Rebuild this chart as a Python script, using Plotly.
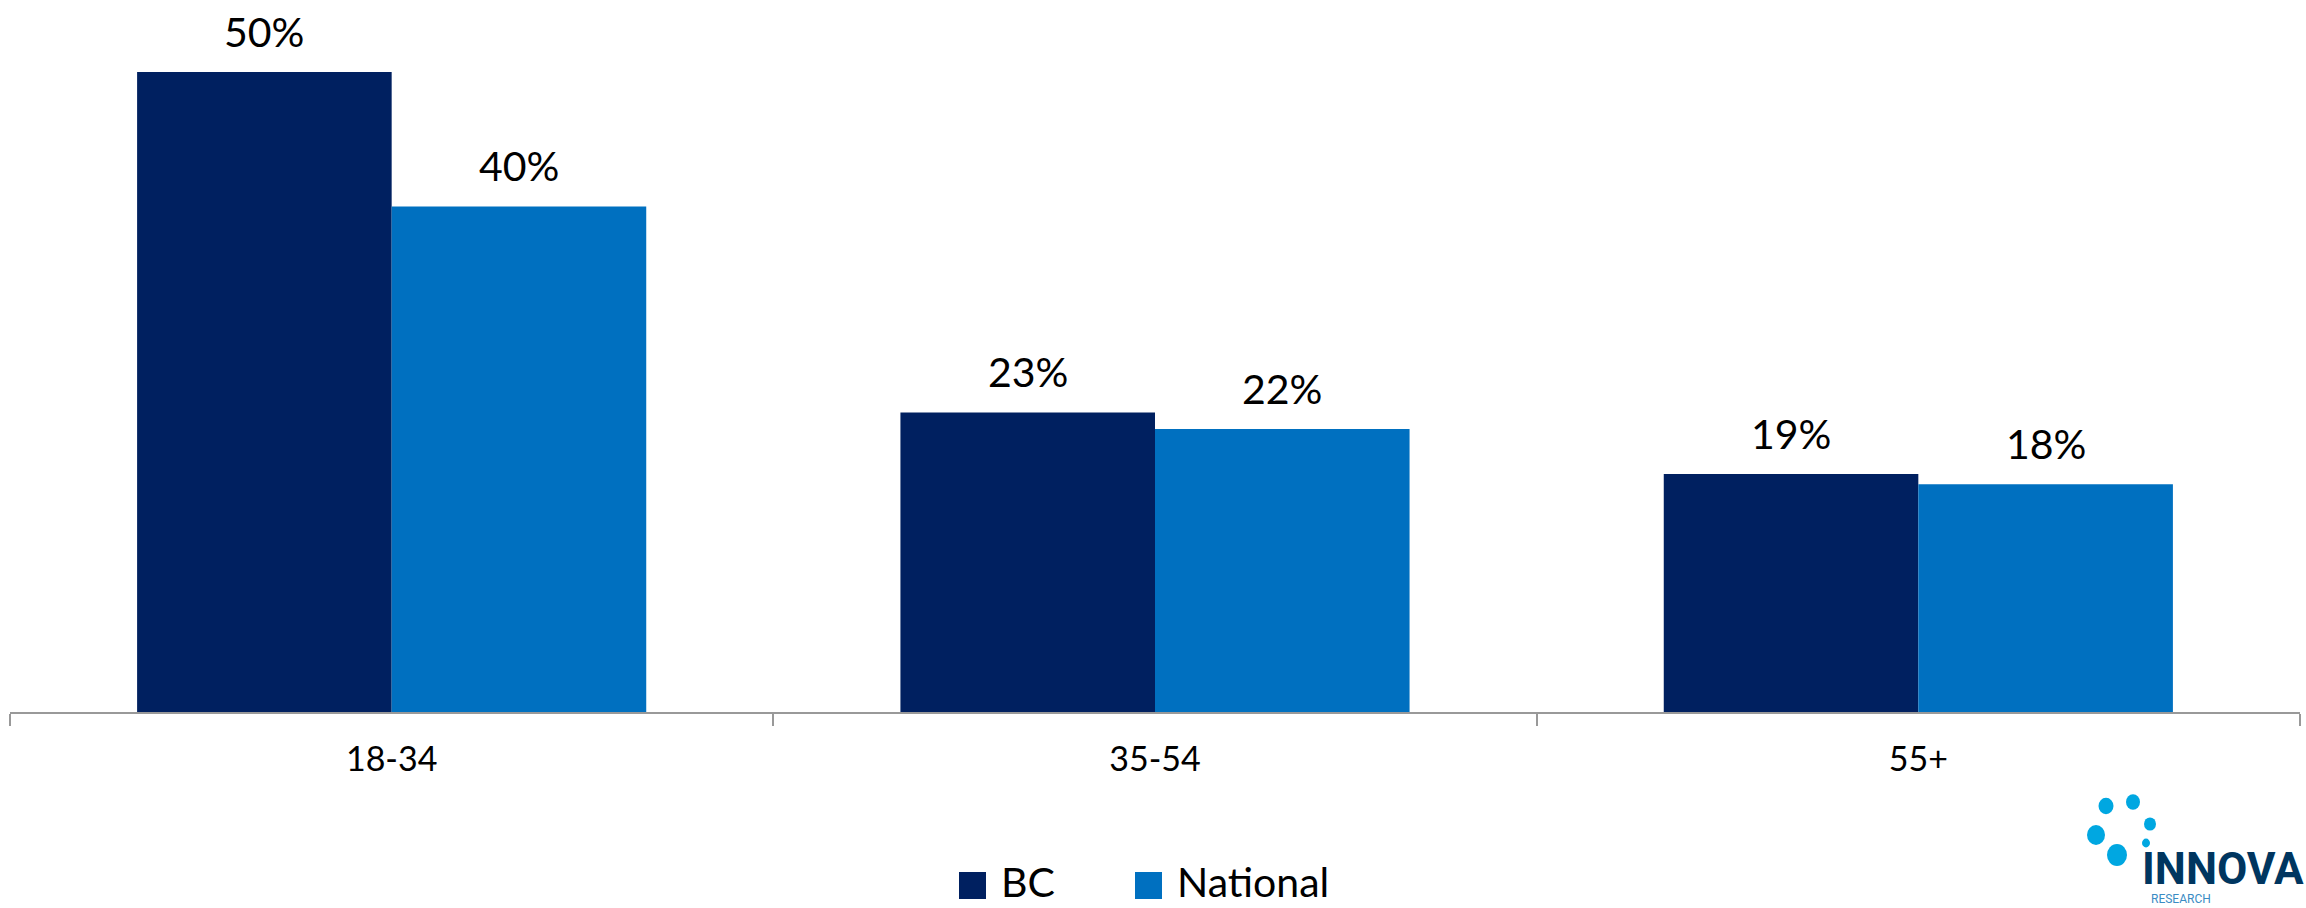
import plotly.graph_objects as go

# ---- data (bar heights; labels shown rounded) ----
categories = ["18-34", "35-54", "55+"]
series_names = ["BC", "National"]
bc_values = [50.0, 23.4, 18.6]
national_values = [39.5, 22.1, 17.8]
series_values = [bc_values, national_values]
series_colors = ["#002060", "#0070C0"]

# ---- layout geometry (pixels) ----
W, H = 2306, 908
ML, MR, MT, MB = 10, 6, 8, 196
PW, PH = W - ML - MR, H - MT - MB
BARGAP = 0.333
YMAX = 55
FONT = "Lato"


def px_x(px):
    return (px - ML) / PW


def px_y(py):
    return (H - MB - py) / PH


fig = go.Figure()
for name, vals, col in zip(series_names, series_values, series_colors):
    fig.add_trace(go.Bar(
        x=categories, y=vals, name=name,
        marker=dict(color=col, line=dict(width=0)),
        showlegend=False, hovertemplate="%{x}: %{y:.0f}%<extra>" + name + "</extra>",
    ))

# value labels above bars
cat_px = PW / len(categories)
bar_px = cat_px * (1 - BARGAP) / len(series_names)
annotations = []
for j, vals in enumerate(series_values):
    shift = (j - (len(series_names) - 1) / 2) * bar_px
    for cat, v in zip(categories, vals):
        annotations.append(dict(
            x=cat, y=v, xref="x", yref="y", text=f"{v:.0f}%",
            showarrow=False, xanchor="center", yanchor="bottom",
            xshift=shift, yshift=14,
            font=dict(family=FONT, size=41, color="#000000"),
        ))

# manual legend
leg_items = [(959, 1000), (1135, 1176)]
shapes = []
for (sq_x, tx_x), name, col in zip(leg_items, series_names, series_colors):
    shapes.append(dict(type="rect", xref="paper", yref="paper",
                       x0=px_x(sq_x), x1=px_x(sq_x + 27),
                       y0=px_y(899), y1=px_y(872),
                       fillcolor=col, line=dict(width=0)))
    annotations.append(dict(x=px_x(tx_x), y=px_y(907), xref="paper", yref="paper",
                            text=name, showarrow=False, xanchor="left", yanchor="bottom",
                            borderpad=0,
                            font=dict(family=FONT, size=41, color="#000000")))

# logo (decorative)
dots = [(2106, 806, 7.5), (2133, 802, 7), (2150, 824, 6), (2096, 835, 9),
        (2146, 843, 4), (2117, 855, 10)]
for cx, cy, r in dots:
    shapes.append(dict(type="circle", xref="paper", yref="paper",
                       x0=px_x(cx - r), x1=px_x(cx + r),
                       y0=px_y(cy + r * 1.1), y1=px_y(cy - r * 1.1),
                       fillcolor="#00A7E1", line=dict(width=0)))
annotations.append(dict(x=px_x(2141), y=px_y(896), xref="paper", yref="paper",
                        text="<b>INNOVA</b>", showarrow=False, xanchor="left", yanchor="bottom",
                        font=dict(family="Roboto", size=44, color="#003660"),
                        borderpad=0))
annotations.append(dict(x=px_x(2150), y=px_y(907), xref="paper", yref="paper",
                        text="RESEARCH", showarrow=False, xanchor="left", yanchor="bottom",
                        font=dict(family="Roboto", size=12, color="#3A8CC4"),
                        borderpad=0))

fig.update_layout(
    width=W, height=H,
    margin=dict(l=ML, r=MR, t=MT, b=MB, pad=0),
    paper_bgcolor="#FFFFFF", plot_bgcolor="#FFFFFF",
    barmode="group", bargap=BARGAP, bargroupgap=0,
    showlegend=False,
    annotations=annotations, shapes=shapes,
    xaxis=dict(type="category", showline=True, linecolor="#999999", linewidth=2,
               ticks="outside", tickson="boundaries", ticklen=12, tickwidth=2,
               tickcolor="#999999", showgrid=False, zeroline=False,
               ticklabelstandoff=16,
               tickfont=dict(family=FONT, size=34, color="#000000")),
    yaxis=dict(visible=False, range=[0, YMAX], showgrid=False, zeroline=False),
    font=dict(family=FONT),
)

fig.write_html("out.html", config={"displayModeBar": False},
               post_script="document.body.style.margin='0';document.body.style.overflow='hidden';")
